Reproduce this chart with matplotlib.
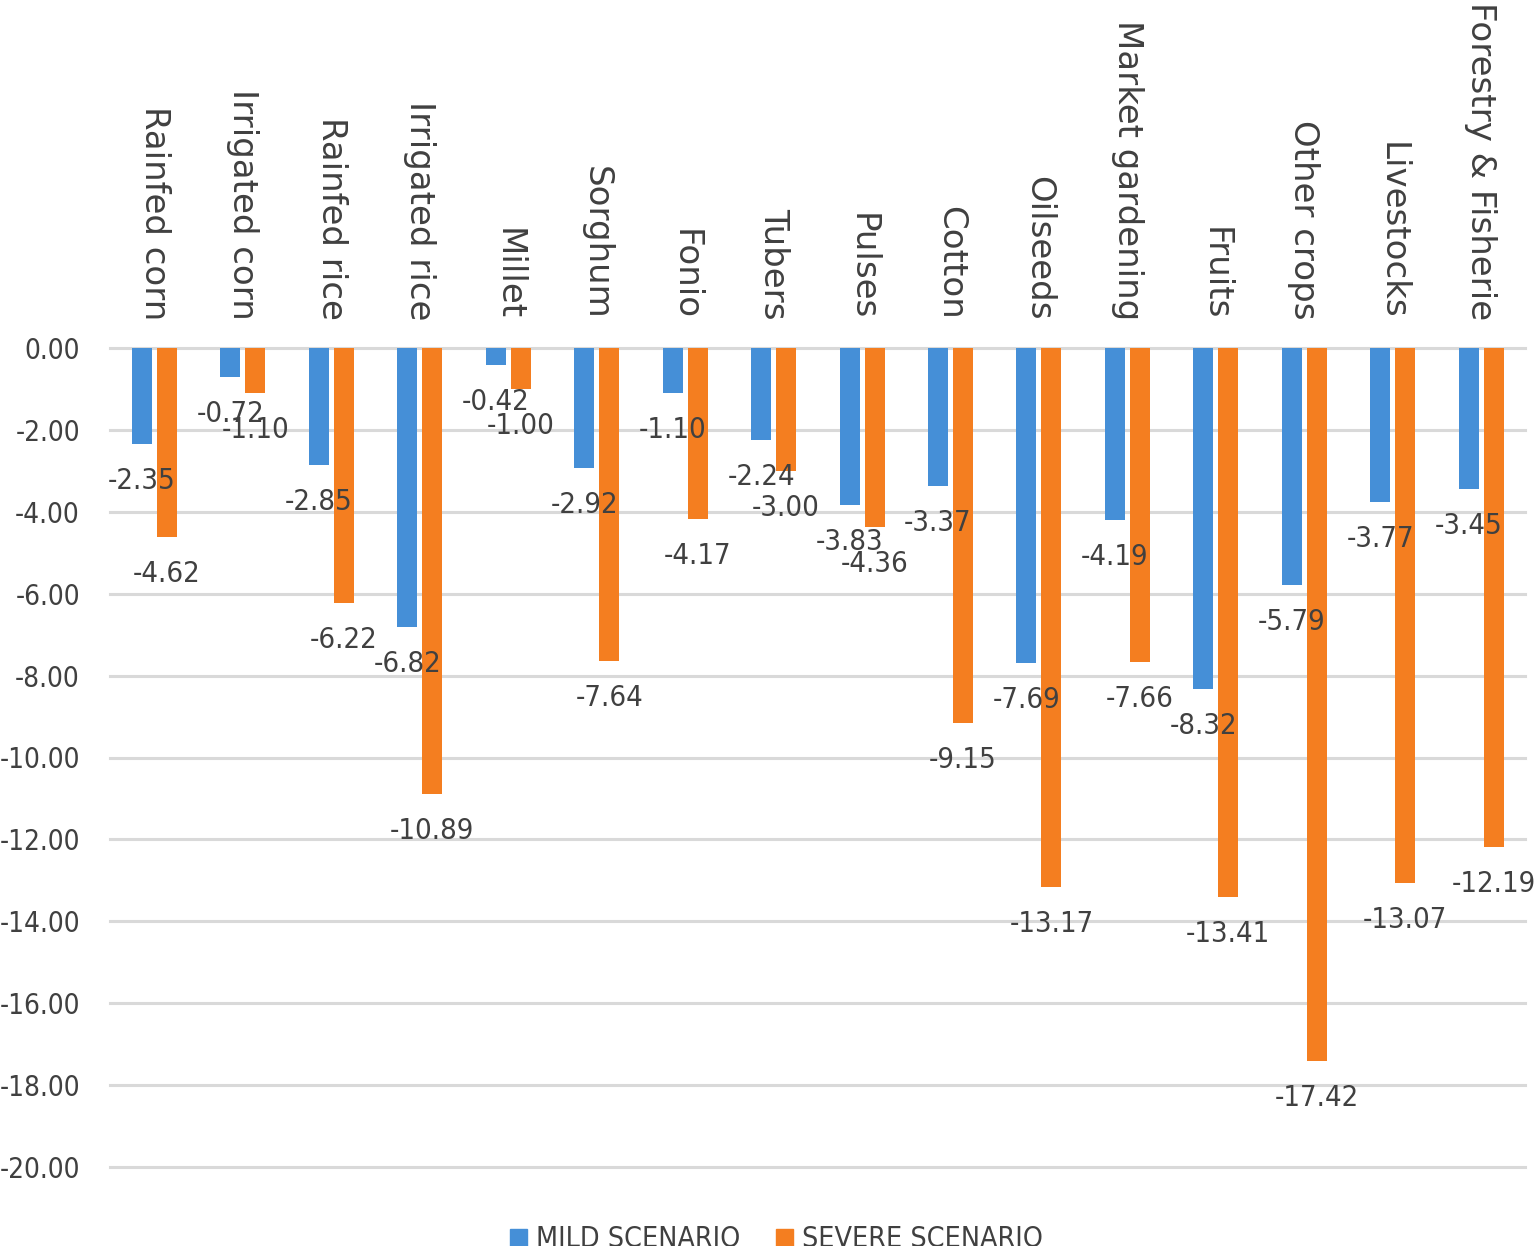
import matplotlib
matplotlib.use('Agg')
import matplotlib.pyplot as plt
from matplotlib.patches import Patch
from matplotlib.transforms import blended_transform_factory
import numpy as np

# ---- data ----
categories = ["Rainfed corn", "Irrigated corn", "Rainfed rice", "Irrigated rice",
              "Millet", "Sorghum", "Fonio", "Tubers", "Pulses", "Cotton",
              "Oilseeds", "Market gardening", "Fruits", "Other crops",
              "Livestocks", "Forestry & Fisherie"]
mild = [-2.35, -0.72, -2.85, -6.82, -0.42, -2.92, -1.10, -2.24, -3.83, -3.37,
        -7.69, -4.19, -8.32, -5.79, -3.77, -3.45]
severe = [-4.62, -1.10, -6.22, -10.89, -1.00, -7.64, -4.17, -3.00, -4.36, -9.15,
          -13.17, -7.66, -13.41, -17.42, -13.07, -12.19]
series_names = ["MILD SCENARIO", "SEVERE SCENARIO"]
ytick_values = [0, -2, -4, -6, -8, -10, -12, -14, -16, -18, -20]
ytick_labels = ["0.00", "-2.00", "-4.00", "-6.00", "-8.00", "-10.00",
                "-12.00", "-14.00", "-16.00", "-18.00", "-20.00"]

# ---- style ----
BLUE = '#458FD7'
ORANGE = '#F47E20'
TXT = '#404040'
GRID = '#D9D9D9'
NARROW = ['Liberation Sans Narrow', 'DejaVu Sans']
W, H = 1535, 1246

fig = plt.figure(figsize=(W / 100, H / 100), dpi=100)
left_px, right_px, top_px, bot_px = 110, 1525, 348, 1167
ax = fig.add_axes([left_px / W, 1 - bot_px / H, (right_px - left_px) / W, (bot_px - top_px) / H])

x = np.arange(len(categories))
bw = 0.226
off_m, off_s = -0.138, 0.145
ax.bar(x + off_m, mild, width=bw, color=BLUE, zorder=3)
ax.bar(x + off_s, severe, width=bw, color=ORANGE, zorder=3)

ax.set_xlim(-0.5, len(categories) - 0.5)
ax.set_ylim(ytick_values[-1], ytick_values[0])
ax.set_yticks(ytick_values)
ax.set_yticklabels(ytick_labels, fontsize=20, color=TXT, family=NARROW, fontstretch='condensed')
ax.tick_params(axis='y', length=0, pad=21.6)
ax.set_xticks([])
ax.yaxis.grid(True, color=GRID, linewidth=2.2, zorder=0)
for gl in ax.get_ygridlines():
    gl.set_clip_on(False)
ax.set_axisbelow(True)
for s in ax.spines.values():
    s.set_visible(False)

# data labels
for xs, vals in ((x + off_m, mild), (x + off_s, severe)):
    for xi, v in zip(xs, vals):
        ax.annotate(f"{v:.2f}", xy=(xi, v), xytext=(0, -37), textcoords='offset pixels',
                    ha='center', va='center', fontsize=21, color=TXT,
                    family=NARROW, fontstretch='condensed', annotation_clip=False)

# category labels above the axis
trans = blended_transform_factory(ax.transData, ax.transAxes)
for xi, c in zip(x, categories):
    ax.annotate(c, xy=(xi, 1), xycoords=trans, xytext=(0, 28), textcoords='offset pixels',
                rotation=-90, ha='center', va='bottom', fontsize=24.5, color=TXT,
                family='DejaVu Sans', annotation_clip=False)

handles = [Patch(color=BLUE), Patch(color=ORANGE)]
fig.legend(handles, series_names, loc='lower center', bbox_to_anchor=(0.5059, -0.006),
           ncol=2, frameon=False, handlelength=0.58, handleheight=0.58,
           handletextpad=0.34, columnspacing=1.25, borderpad=0, borderaxespad=0,
           labelcolor=TXT, prop={'family': NARROW, 'size': 20.5, 'stretch': 'condensed'})

fig.savefig('out.png', dpi=100)
